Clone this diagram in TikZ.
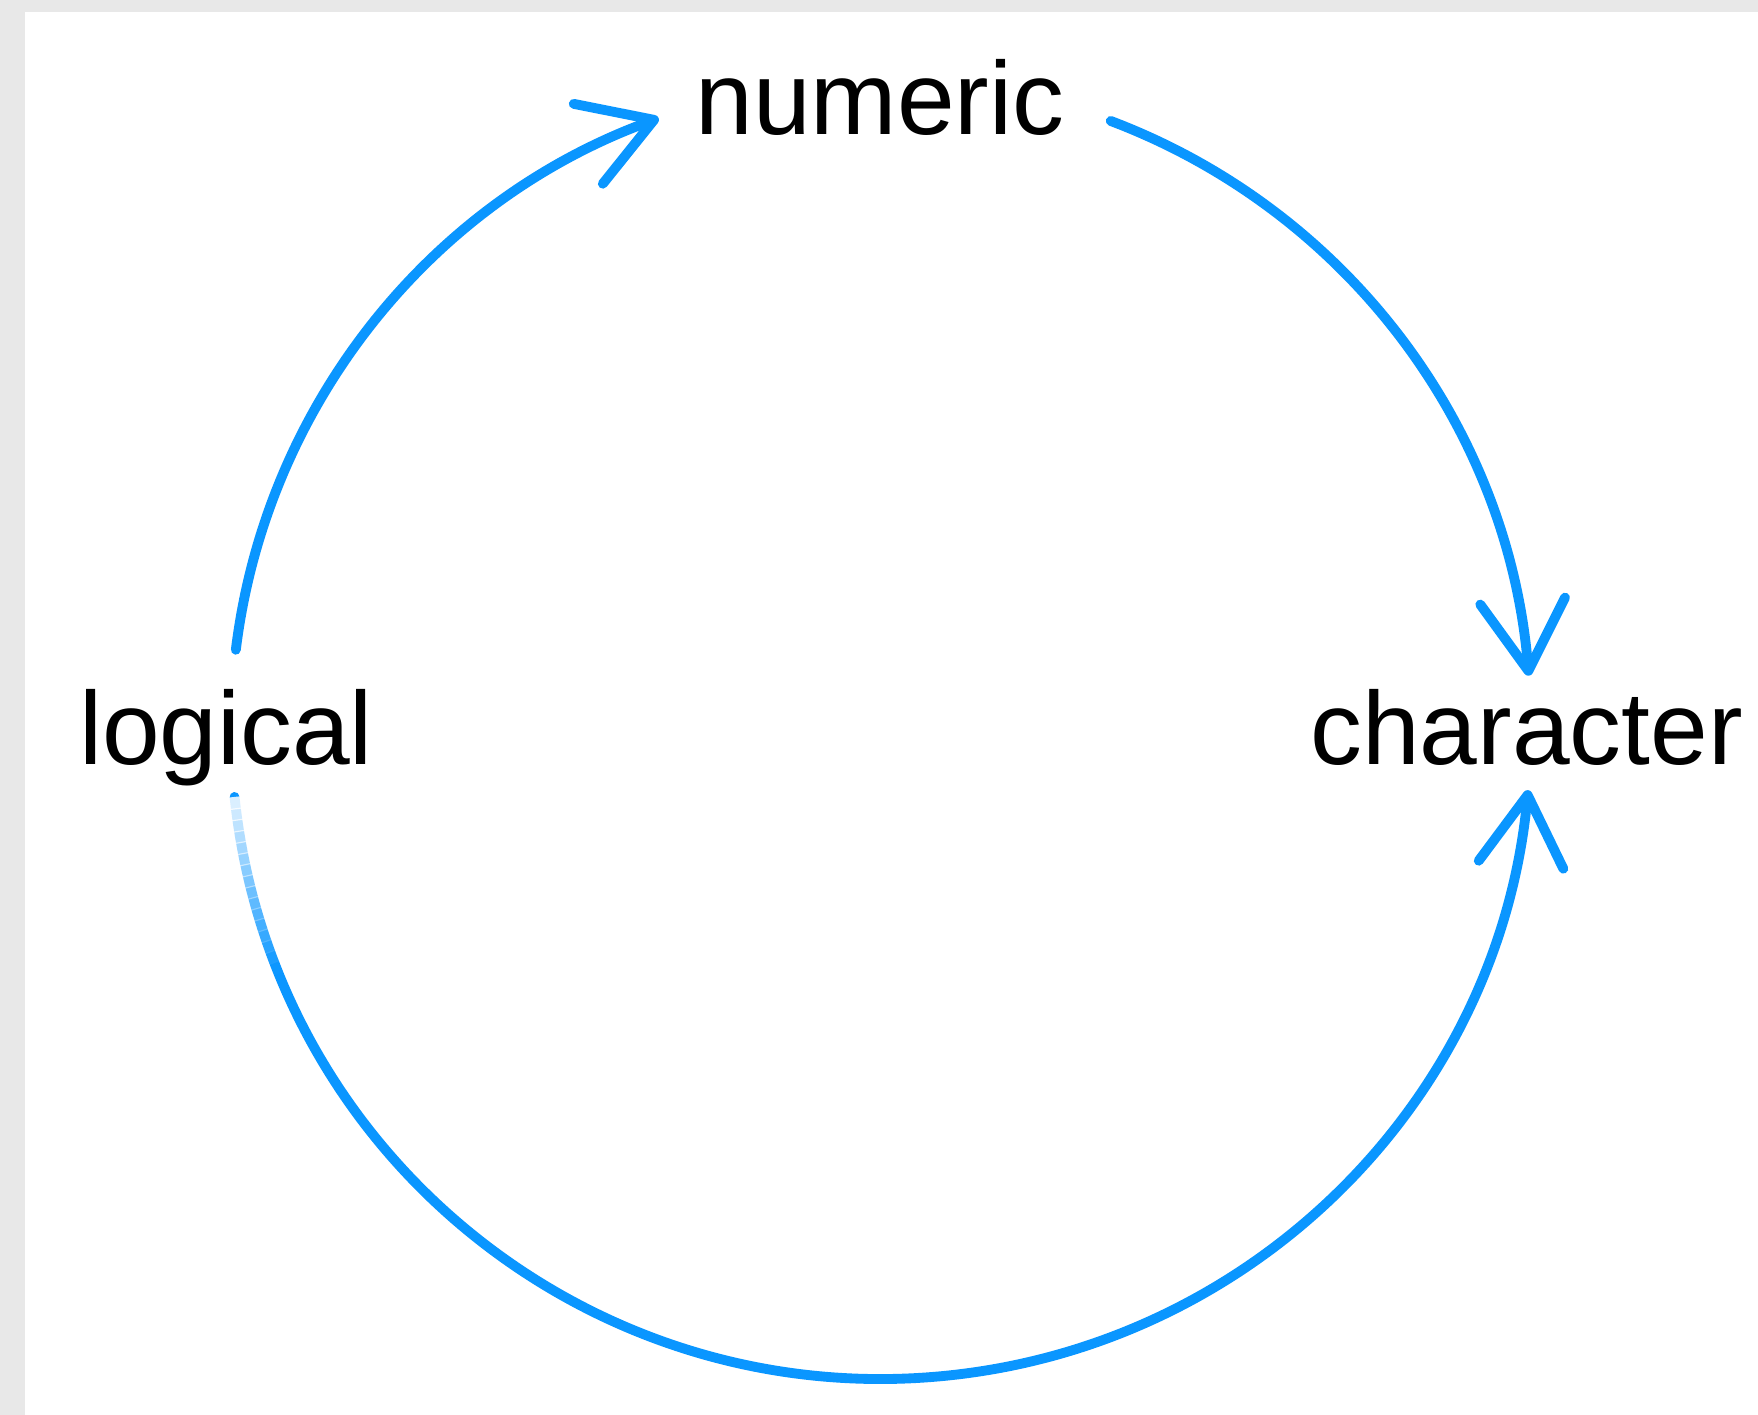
\documentclass[tikz,border=0pt]{standalone}
\usepackage{fontspec}
\setmainfont{Liberation Sans}
\usetikzlibrary{arrows.meta, calc}
\definecolor{flowblue}{RGB}{10,150,255}
\definecolor{framegray}{RGB}{232,232,232}

\begin{document}
\begin{tikzpicture}[
  type/.style={inner sep=0pt, anchor=base, font=\fontsize{29.5}{35}\selectfont},
  flow/.style={-{Straight Barb[length=7mm, width=8.5mm, round]}, line width=2.8pt, flowblue, line cap=round},
]
  % frame
  \fill[framegray] (0,0) rectangle (17.58,14.15);
  \fill[white] (0.25,0) rectangle (17.58,14.03);
  \useasboundingbox (0,0) rectangle (17.58,14.15);

  % ring centre and radius
  \coordinate (ring) at (8.81,6.86);
  \def\rr{6.5}

  % types
  \node[type] (numeric) at (8.80,12.80) {numeric};
  \node[type] (logical) at (2.26,6.50) {logical};
  \node[type] (character) at (15.265,6.50) {character};

  % arc ends
  \coordinate (lg-up) at ($(ring)+(173:\rr)$);
  \coordinate (lg-down) at ($(ring)+(186:\rr)$);
  \coordinate (nm-out) at ($(ring)+(69.3:\rr)$);

  % Arrows
  \draw[flow] (lg-up) arc[start angle=173, end angle=110, radius=\rr];
  \draw[flow] (nm-out) arc[start angle=69.3, end angle=4.7, radius=\rr];
  \draw[flow] (lg-down) arc[start angle=186, end angle=354.6, radius=\rr];

  % fade near logical
  \foreach \k [evaluate=\k as \op using 0.85-\k/18] in {0,...,15} {
    \draw[white, line width=3.4pt, opacity=\op]
      ($(ring)+(186+\k:\rr)$) arc[start angle=186+\k, end angle=187.1+\k, radius=\rr];
  }

\end{tikzpicture}
\end{document}
